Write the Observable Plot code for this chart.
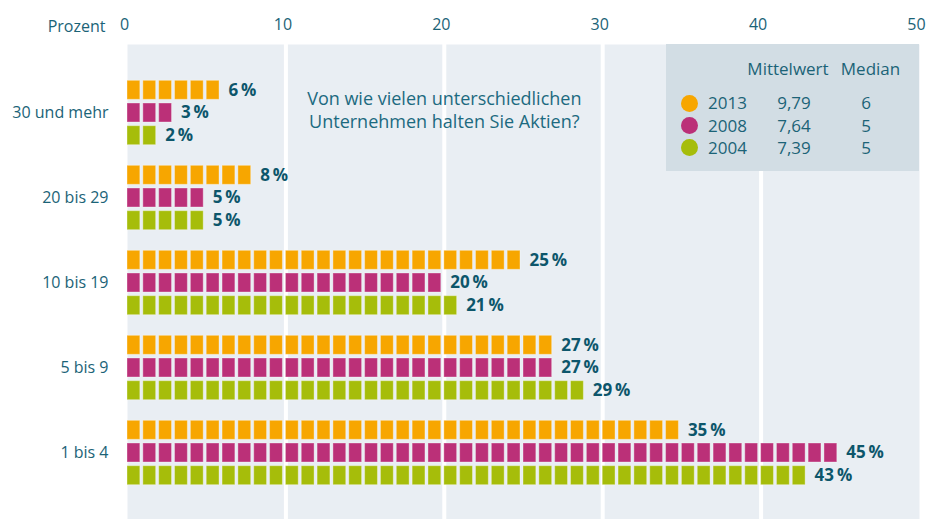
<!DOCTYPE html>
<html>
<head>
<meta charset="utf-8">
<script src="https://cdn.jsdelivr.net/npm/d3@7"></script>
<script src="https://cdn.jsdelivr.net/npm/@observablehq/plot@0.6"></script>
<style>
  html, body { margin: 0; padding: 0; background: #fff; }
  #wrap { position: relative; width: 929px; height: 519px; font-family: "Open Sans", sans-serif; }
  #legend { position: absolute; left: 666px; top: 44px; width: 253px; height: 127px; background: #d2dde4; color: #1b6377; font-size: 17px; }
  #legend span { position: absolute; white-space: nowrap; line-height: 1; }
  #legend .dot { width: 17px; height: 17px; border-radius: 50%; }
</style>
</head>
<body>
<div id="wrap"></div>
<script>
const categories = ["30 und mehr", "20 bis 29", "10 bis 19", "5 bis 9", "1 bis 4"];
const years = ["2013", "2008", "2004"];
const colors = ["#f7a600", "#bb3078", "#a6bd0a"];
const values2013 = [6, 8, 25, 27, 35];
const values2008 = [3, 5, 20, 27, 45];
const values2004 = [2, 5, 21, 29, 43];
const means = ["9,79", "7,64", "7,39"];
const medians = ["6", "5", "5"];
const legendHeaders = ["Mittelwert", "Median"];
const xTicks = [0, 10, 20, 30, 40, 50];
const gridTicks = [10, 20, 30, 40];
const axisTitle = "Prozent";
const question = "Von wie vielen unterschiedlichen\nUnternehmen halten Sie Aktien?";

const series = [values2013, values2008, values2004];
const rowOffsets = [-22.7, 0, 22.7];
const textColor = "#1b6377";
const labelColor = "#0d566b";

const squares = [];
const totals = [];
years.forEach((yr, si) => {
  categories.forEach((c, ci) => {
    const v = series[si][ci];
    totals.push({year: yr, si, cat: c, value: v});
    for (let i = 0; i < v; i++) squares.push({year: yr, si, cat: c, i});
  });
});

const chart = Plot.plot({
  width: 929,
  height: 519,
  marginTop: 44,
  marginBottom: 0,
  marginLeft: 127,
  marginRight: 10,
  style: {fontFamily: "Open Sans", fontSize: "16px", background: "white"},
  x: {domain: [0, 50]},
  y: {domain: categories, range: [67.7, 497.3], padding: 0},
  color: {domain: years, range: colors},
  marks: [
    Plot.frame({fill: "#e9eef3", stroke: "none"}),
    Plot.ruleX(gridTicks, {stroke: "white", strokeWidth: 4}),
    ...years.map((yr, si) => Plot.rect(squares.filter(d => d.si === si), {
      x1: "i", x2: d => d.i + 1, y: "cat", fill: "year",
      insetRight: 3, insetTop: 33, insetBottom: 33, dy: rowOffsets[si],
      stroke: "white", strokeOpacity: 0.35, strokeWidth: 1
    })),
    ...years.map((yr, si) => Plot.text(totals.filter(d => d.si === si), {
      x: "value", y: "cat", text: d => `${d.value}\u2009%`,
      dx: 6, dy: rowOffsets[si], textAnchor: "start",
      fontWeight: "bold", fontSize: 17, fill: labelColor
    })),
    Plot.text([{x: 20, cat: categories[0], t: question}], {
      x: "x", y: "cat", text: "t", dy: -4, fontSize: 18, lineHeight: 1.3, fill: "#1c6a80"
    }),
    Plot.axisX({anchor: "top", ticks: xTicks, tickSize: 0, tickPadding: 15, fontSize: 16, fill: textColor, dx: -3, label: null}),
    Plot.axisY({tickSize: 0, tickPadding: 19, fontSize: 16, fill: textColor, label: null}),
    Plot.text([axisTitle], {frameAnchor: "top-left", textAnchor: "end", dx: -22, dy: -24, fontSize: 16, fill: textColor})
  ]
});

const wrap = document.getElementById("wrap");
wrap.appendChild(chart);

// legend table (overlay inside the plot panel)
const legend = document.createElement("div");
legend.id = "legend";
const color = chart.scale("color");
function addSpan(text, cx, cy, anchor) {
  const s = document.createElement("span");
  s.textContent = text;
  s.style.left = cx + "px";
  s.style.top = cy + "px";
  s.style.transform = anchor === "start" ? "translate(0,-55%)" : "translate(-50%,-55%)";
  legend.appendChild(s);
  return s;
}
addSpan(legendHeaders[0], 122, 25, "middle");
addSpan(legendHeaders[1], 204.5, 25, "middle");
years.forEach((yr, i) => {
  const cy = 59.3 + i * 22.2;
  const dot = document.createElement("span");
  dot.className = "dot";
  dot.style.left = (23 - 8.5) + "px";
  dot.style.top = (cy - 8.5) + "px";
  dot.style.background = color.range[color.domain.indexOf(yr)];
  legend.appendChild(dot);
  addSpan(yr, 42, cy, "start");
  addSpan(means[i], 128, cy, "middle");
  addSpan(medians[i], 200, cy, "middle");
});
wrap.appendChild(legend);
</script>
</body>
</html>
